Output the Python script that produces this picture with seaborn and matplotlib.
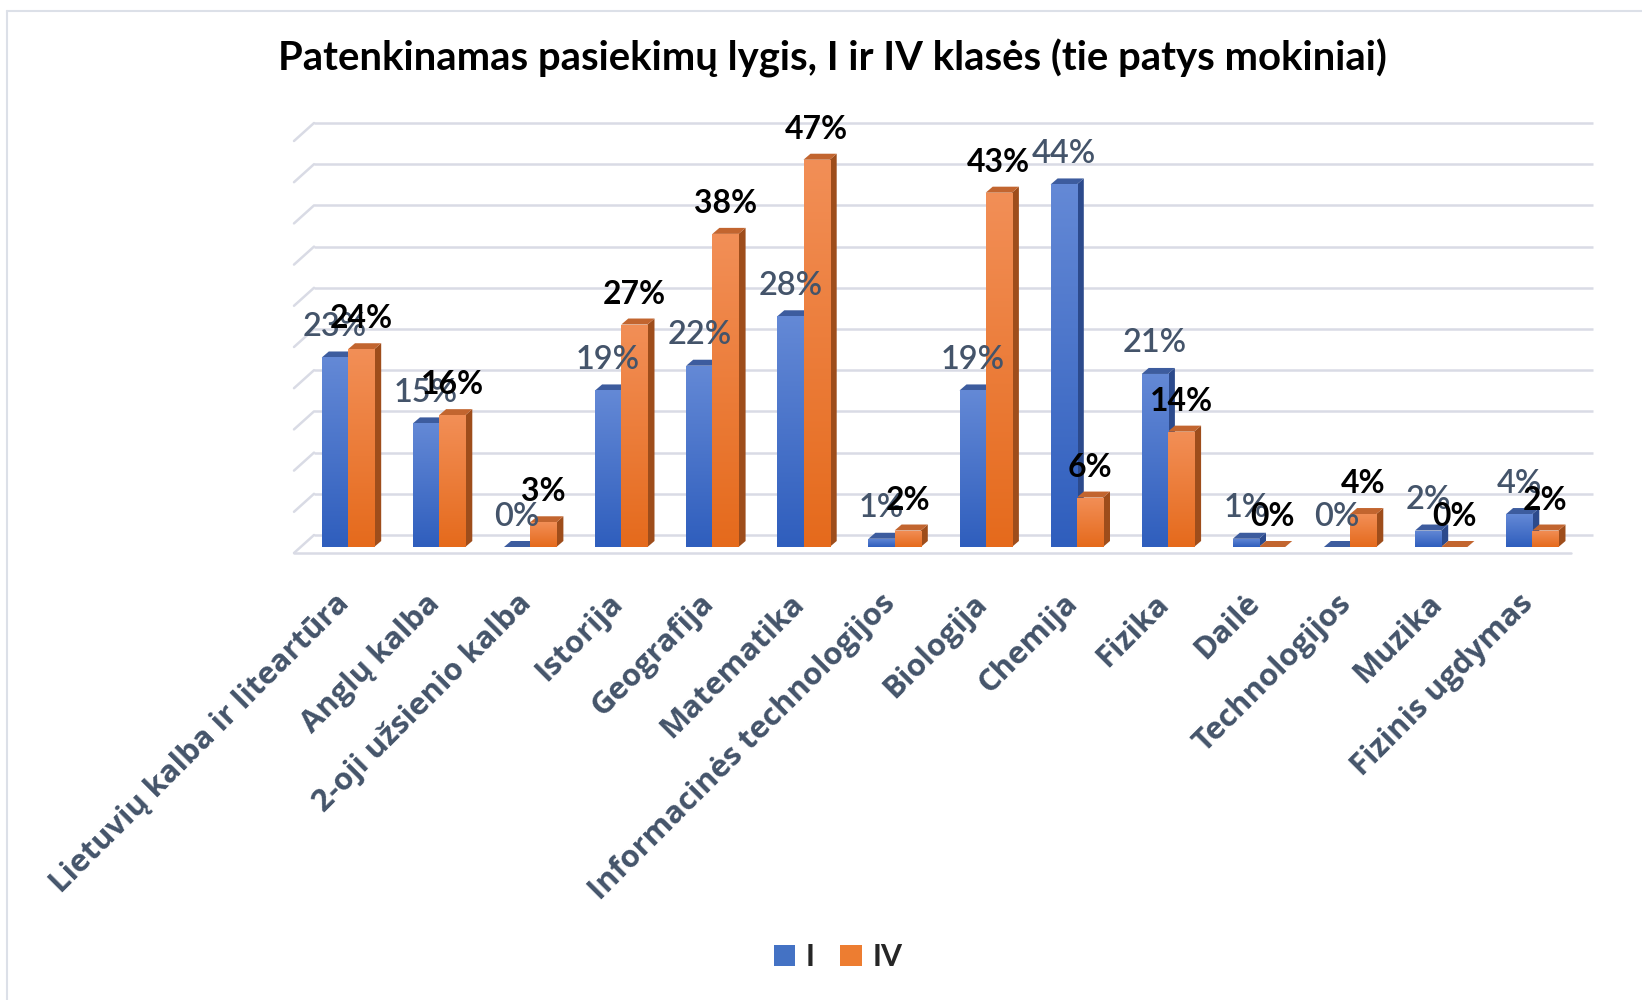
import matplotlib
matplotlib.use("Agg")
import matplotlib.pyplot as plt
from matplotlib import font_manager
from matplotlib.patches import Polygon, Patch
from matplotlib.lines import Line2D
from matplotlib.colors import LinearSegmentedColormap
from matplotlib.transforms import ScaledTranslation
import numpy as np
import pandas as pd
import seaborn as sns

subjects = ["Lietuvių kalba ir liteartūra", "Anglų kalba", "2-oji užsienio kalba",
            "Istorija", "Geografija", "Matematika", "Informacinės technologijos",
            "Biologija", "Chemija", "Fizika", "Dailė", "Technologijos", "Muzika",
            "Fizinis ugdymas"]
class_i = [23, 15, 0, 19, 22, 28, 1, 19, 44, 21, 1, 0, 2, 4]
class_iv = [24, 16, 3, 27, 38, 47, 2, 43, 6, 14, 0, 4, 0, 2]
series = ["I", "IV"]
grid_ticks = list(range(0, 55, 5))

df = pd.DataFrame({
    "dalykas": subjects * 2,
    "klasė": ["I"] * len(subjects) + ["IV"] * len(subjects),
    "proc": class_i + class_iv,
})

sns.set_theme(style="white")
names = {f.name for f in font_manager.fontManager.ttflist}
narrow = "Liberation Sans Narrow" if "Liberation Sans Narrow" in names else "Lato"
tickfont = "Open Sans" if "Open Sans" in names else "DejaVu Sans"
plt.rcParams["font.family"] = [narrow, "DejaVu Sans"]

SLATE = "#44546A"
W, H = 1642, 1000
fig = plt.figure(figsize=(W / 100, H / 100), dpi=100)
renderer = fig.canvas.get_renderer()


def fit(text, target_px, **kw):
    t = fig.text(0, 0, text, fontsize=10, **kw)
    w = t.get_window_extent(renderer).width
    t.remove()
    return 10 * target_px / w


# pixel geometry of the reference
x0_px, px_cat = 348, 91.1
y0_px, px_pct = 547, 8.24
L, R, B, T = 280, 1610, 560, 100
ax = fig.add_axes([L / W, 1 - B / H, (R - L) / W, (B - T) / H])

blue_top, blue_bot, blue_side, blue_cap = "#6489D6", "#2F5EBD", "#2C4A8C", "#3D5C9E"
or_top, or_bot, or_side, or_cap = "#F28F57", "#E56A1C", "#9E4D1B", "#C2652F"

sns.barplot(data=df, x="dalykas", y="proc", hue="klasė", hue_order=series,
            palette=[blue_bot, or_bot], width=0.575, legend=False, ax=ax,
            saturation=1, zorder=3, linewidth=0)

xlim = ((L - x0_px) / px_cat, (R - x0_px) / px_cat)
ylim = ((y0_px - B) / px_pct, (y0_px - T) / px_pct)

# 3D-ish back wall, left wall and floor
fx_l, bx_l = (294 - x0_px) / px_cat, (314 - x0_px) / px_cat
bx_r, fx_r = (1593 - x0_px) / px_cat, (1571 - x0_px) / px_cat
fy0, by0 = (y0_px - 553) / px_pct, (y0_px - 535) / px_pct
gcol = "#D9DBE5"
for g in grid_ticks:
    ax.plot([bx_l, bx_r], [by0 + g, by0 + g], color=gcol, lw=1.8, zorder=0.5,
            solid_capstyle="butt")
    ax.plot([fx_l, bx_l], [fy0 + g, by0 + g], color=gcol, lw=1.8, zorder=0.5)
ax.plot([fx_l, fx_r], [fy0, fy0], color=gcol, lw=1.8, zorder=0.5)

dx, dy = 7 / px_cat, 6 / px_pct
cm_blue = LinearSegmentedColormap.from_list("b", [blue_top, blue_bot])
cm_or = LinearSegmentedColormap.from_list("o", [or_top, or_bot])
grad = np.linspace(0, 1, 256).reshape(-1, 1)

lab_size = fit("47%", 63, fontweight="bold")
bars = list(ax.patches)
n = len(subjects)
for i, p in enumerate(bars):
    is_i = i < n
    side, cap = (blue_side, blue_cap) if is_i else (or_side, or_cap)
    x, w, h = p.get_x(), p.get_width(), p.get_height()
    ax.add_patch(Polygon([(x + w, 0), (x + w + dx, dy), (x + w + dx, h + dy), (x + w, h)],
                         closed=True, fc=side, ec="none", zorder=2))
    ax.add_patch(Polygon([(x, h), (x + dx, h + dy), (x + w + dx, h + dy), (x + w, h)],
                         closed=True, fc=cap, ec="none", zorder=2))
    if h > 0:
        im = ax.imshow(grad, cmap=cm_blue if is_i else cm_or, aspect="auto",
                       extent=(x, x + w, 0, h), zorder=3, interpolation="bilinear")
        im.set_clip_path(p)
    # data labels
    cx = x + w / 2
    if is_i:
        ax.text(cx, h + 3.7, f"{class_i[i]}%", ha="center", va="center",
                color=SLATE, fontweight="semibold", fontsize=lab_size * 1.02,
                zorder=6, clip_on=False)
    else:
        ax.text(cx, h + 3.7, f"{class_iv[i - n]}%", ha="center", va="center",
                color="black", fontweight="bold", fontsize=lab_size, zorder=6,
                clip_on=False)

ax.set_xlim(*xlim)
ax.set_ylim(*ylim)
ax.set_ylabel("")
ax.set_xlabel("")
ax.set_yticks([])
for s in ax.spines.values():
    s.set_visible(False)

tick_size = fit(subjects[0], 412, fontweight="bold", family=tickfont)
ax.set_xticks(range(n))
ax.set_xticklabels(subjects, rotation=45, ha="right", va="top", rotation_mode="anchor",
                   fontsize=tick_size, fontweight="bold", color=SLATE, family=tickfont)
ax.tick_params(axis="x", length=0, pad=14)
shift = ScaledTranslation(-14 / 100, -9 / 100, fig.dpi_scale_trans)
for lbl in ax.get_xticklabels():
    lbl.set_transform(lbl.get_transform() + shift)

title = "Patenkinamas pasiekimų lygis, I ir IV klasės (tie patys mokiniai)"
fig.text(832 / W, 1 - 58 / H, title, ha="center", va="center", fontweight="bold",
         fontsize=fit(title, 1110, fontweight="bold"), color="black")

handles = [Patch(fc="#4472C4", ec="none"), Patch(fc="#ED7D31", ec="none")]
fig.legend(handles, series, loc="center", bbox_to_anchor=(838 / W, 1 - 957 / H), ncol=2,
           frameon=False, prop={"weight": "bold", "size": lab_size * 0.95},
           handlelength=0.72, handleheight=0.72, columnspacing=0.85, handletextpad=0.34)

fig.add_artist(Line2D([7 / W, 1], [1 - 11 / H, 1 - 11 / H], color="#DCE0E8", lw=1.5))
fig.add_artist(Line2D([7 / W, 7 / W], [0, 1 - 11 / H], color="#DCE0E8", lw=1.5))

fig.savefig("out.png", dpi=100)
